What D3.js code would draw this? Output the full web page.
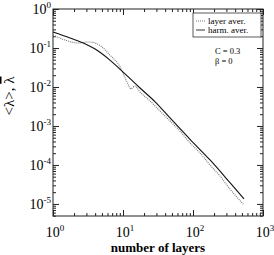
<!DOCTYPE html>
<html>
<head>
  <meta charset="utf-8">
  <title>lambda vs number of layers</title>
  <script src="https://d3js.org/d3.v7.min.js"></script>
  <style>
    body { margin: 0; background: #fff; }
  </style>
</head>
<body>
<svg class="chart"></svg>
<script>
// harmonic average (solid line)
const harmLayers = [1, 1.75, 2.9, 4, 6.5, 10.7, 17.5, 29, 47, 90, 175, 340, 535];
const harmAver   = [0.257, 0.18, 0.127, 0.094, 0.049, 0.0216, 0.0094, 0.0041, 0.0016, 4.6e-4, 1.34e-4, 3.45e-5, 1.34e-5];

// layer average (dotted line)
const layerLayers = [1, 1.48, 2.28, 3.16, 4, 5, 6.5, 9.1, 11.4, 13, 14.8, 17.5, 24.3, 33.8, 47, 65, 90, 126, 175, 243, 338, 535];
const layerAver   = [0.215, 0.16, 0.134, 0.143, 0.134, 0.106, 0.066, 0.0326, 0.0134, 0.0089, 0.0106, 0.0074, 0.0044, 0.0024, 0.00134, 7.4e-4, 3.7e-4, 2.03e-4, 1.0e-4, 5.2e-5, 2.4e-5, 9.4e-6];

// tick labels (exponents of 10)
const xExponents = [0, 1, 2, 3];
const yExponents = [0, -1, -2, -3, -4, -5];

const W = 274, H = 255;
const margin = {top: 9, right: 11, bottom: 39, left: 53};
const serif = "Liberation Serif";

const svg = d3.select(".chart").attr("width", W).attr("height", H);

const x = d3.scaleLog().domain([1, 1000]).range([margin.left, W - margin.right]);
const y = d3.scaleLog().domain([1, 4.9e-6]).range([margin.top, H - margin.bottom]);

// minor tick values (2..9 of each decade)
const minorX = [];
for (let e = 0; e < 3; e++) for (let k = 2; k < 10; k++) minorX.push(k * Math.pow(10, e));
const minorY = [];
for (let e = -6; e < 0; e++) for (let k = 2; k < 10; k++) {
  const v = k * Math.pow(10, e);
  if (v >= 4.9e-6) minorY.push(v);
}
const majorX = xExponents.map(e => Math.pow(10, e));
const majorY = yExponents.map(e => Math.pow(10, e));

// axes with inward ticks on all four sides
function axisGroup(axis, tf) {
  const g = svg.append("g").attr("transform", tf).call(axis);
  g.select(".domain").remove();
  g.selectAll("line").attr("stroke", "#222");
  return g;
}
const bottomY = H - margin.bottom, rightX = W - margin.right;
axisGroup(d3.axisBottom(x).tickValues(minorX).tickSize(-3).tickFormat(""), `translate(0,${bottomY})`);
axisGroup(d3.axisBottom(x).tickValues(majorX).tickSize(-6).tickFormat(""), `translate(0,${bottomY})`);
axisGroup(d3.axisTop(x).tickValues(minorX).tickSize(-3).tickFormat(""), `translate(0,${margin.top})`);
axisGroup(d3.axisTop(x).tickValues(majorX).tickSize(-6).tickFormat(""), `translate(0,${margin.top})`);
axisGroup(d3.axisLeft(y).tickValues(minorY).tickSize(-3).tickFormat(""), `translate(${margin.left},0)`);
axisGroup(d3.axisLeft(y).tickValues(majorY).tickSize(-6).tickFormat(""), `translate(${margin.left},0)`);
axisGroup(d3.axisRight(y).tickValues(minorY).tickSize(-3).tickFormat(""), `translate(${rightX},0)`);
axisGroup(d3.axisRight(y).tickValues(majorY).tickSize(-6).tickFormat(""), `translate(${rightX},0)`);

// frame
svg.append("rect")
  .attr("x", margin.left).attr("y", margin.top)
  .attr("width", rightX - margin.left).attr("height", bottomY - margin.top)
  .attr("fill", "none").attr("stroke", "#222").attr("stroke-width", 1);

// tick labels 10^n
const yl = svg.append("g").selectAll("text").data(yExponents).join("text")
  .attr("x", margin.left - 2).attr("y", d => y(Math.pow(10, d)) + 5)
  .attr("text-anchor", "end").style("font-family", serif).style("font-size", "14px");
yl.append("tspan").text("10");
yl.append("tspan").attr("dy", -6).style("font-size", "9px").text(d => d);

const xl = svg.append("g").selectAll("text").data(xExponents).join("text")
  .attr("x", d => x(Math.pow(10, d)) + 2).attr("y", bottomY + 21)
  .attr("text-anchor", "middle").style("font-family", serif).style("font-size", "14px");
xl.append("tspan").text("10");
xl.append("tspan").attr("dy", -6).style("font-size", "9px").text(d => d);

// data lines
const line = d3.line().x(d => x(d[0])).y(d => y(d[1])).curve(d3.curveMonotoneX);
svg.append("path")
  .datum(d3.zip(layerLayers, layerAver))
  .attr("d", line).attr("fill", "none")
  .attr("stroke", "#777").attr("stroke-width", 1.1).attr("stroke-dasharray", "1,1");
svg.append("path")
  .datum(d3.zip(harmLayers, harmAver))
  .attr("d", line).attr("fill", "none")
  .attr("stroke", "#111").attr("stroke-width", 1.1);

// legend
const leg = svg.append("g");
leg.append("rect").attr("x", 193).attr("y", 13).attr("width", 68).attr("height", 24)
  .attr("fill", "#fff").attr("stroke", "#333").attr("stroke-width", 0.8);
leg.append("line").attr("x1", 196).attr("x2", 205).attr("y1", 21).attr("y2", 21)
  .attr("stroke", "#777").attr("stroke-dasharray", "1,1");
leg.append("line").attr("x1", 196).attr("x2", 205).attr("y1", 30).attr("y2", 30)
  .attr("stroke", "#333");
leg.append("text").attr("x", 208).attr("y", 24).style("font-family", serif).style("font-size", "9px").text("layer aver.");
leg.append("text").attr("x", 208).attr("y", 33).style("font-family", serif).style("font-size", "9px").text("harm. aver.");

// parameters
svg.append("text").attr("x", 215).attr("y", 54).style("font-family", serif).style("font-size", "8.5px").text("C = 0.3");
svg.append("text").attr("x", 215).attr("y", 64).style("font-family", serif).style("font-size", "8.5px").text("β = 0");

// axis titles
svg.append("text")
  .attr("x", 158).attr("y", H - 3)
  .attr("text-anchor", "middle").style("font-family", serif)
  .style("font-size", "13px").style("font-weight", "bold")
  .text("number of layers");

const yt = svg.append("text")
  .attr("transform", "translate(14,96) rotate(-90)")
  .attr("text-anchor", "middle").style("font-family", serif).style("font-size", "15px");
yt.append("tspan").text("<λ>, ");
yt.append("tspan").style("text-decoration", "overline").text("λ");
</script>
</body>
</html>
